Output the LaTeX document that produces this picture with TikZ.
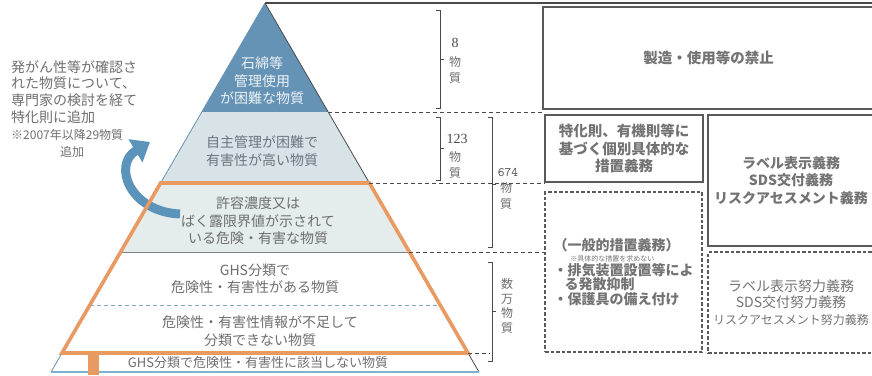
\documentclass[tikz,border=0pt]{standalone}
\usepackage{fontspec}
\setmainfont{Noto Sans CJK JP}
\newfontfamily\numfont{Liberation Serif}
\usetikzlibrary{arrows.meta}
\definecolor{topblue}{HTML}{6593B5}
\definecolor{midlayer}{HTML}{D7E3E7}
\definecolor{lowlayer}{HTML}{E4ECEC}
\definecolor{orangeline}{HTML}{E99A62}
\definecolor{arrowblue}{HTML}{5B93BB}
\definecolor{edgegray}{HTML}{4A4A4A}
\definecolor{txtgray}{HTML}{6E6E6E}
\definecolor{boxgray}{HTML}{5A5A5A}
\definecolor{bottomblue}{HTML}{7FB2D2}
\tikzset{
  jp/.style={font=\fontsize{14}{17.5}\selectfont, align=center, inner sep=0pt},
  layertext/.style={jp, text=txtgray},
  toptext/.style={jp, text=white!88!topblue},
  notetext/.style={font=\fontsize{14}{16.8}\selectfont, align=left, inner sep=0pt, text=txtgray},
  solidbox/.style={draw=boxgray, line width=1.8pt, inner sep=0pt, font=\bfseries\fontsize{14.5}{17.8}\selectfont, text=boxgray!85, align=center},
  dashbox/.style={draw=boxgray, line width=1.1pt, dash pattern=on 3.5pt off 2pt, inner sep=0pt, text=boxgray!85, align=center},
  dashline/.style={draw=edgegray, line width=0.9pt, dash pattern=on 4pt off 3pt},
  brk/.style={draw=edgegray, line width=0.9pt},
  cnt/.style={font=\numfont\fontsize{14}{14}\selectfont, inner sep=0pt, text=edgegray},
  cntjp/.style={font=\fontsize{12}{15.5}\selectfont, inner sep=0pt, text=txtgray, align=center}
}
\begin{document}
\begin{tikzpicture}[x=1pt,y=-1pt]
\useasboundingbox (0,0) rectangle (872,375);
\clip (0,0) rectangle (872,375);

% ---- pyramid layers ----
\fill[topblue] (265,3) -- (328.2,112) -- (201.8,112) -- cycle;
\fill[midlayer] (201.8,112) -- (328.2,112) -- (369.4,183) -- (160.6,183) -- cycle;
\fill[lowlayer] (160.6,183) -- (369.4,183) -- (409.4,252) -- (120.6,252) -- cycle;
\draw[edgegray!70, line width=0.8pt] (120.6,252) -- (409.4,252);
\draw[bottomblue!80!gray, line width=0.9pt, dash pattern=on 4pt off 3pt] (89.8,305) -- (440.2,305);
\draw[edgegray, line width=0.8pt] (265,3) -- (479,372);
\draw[topblue, line width=0.8pt] (265,3) -- (51,372);
\draw[bottomblue, line width=1.4pt] (51,372) -- (479,372);
\draw[edgegray!60, line width=0.6pt] (62,353) -- (468,353);

% ---- curved arrow ----
\draw[arrowblue, line width=9pt, -{Triangle[length=17pt,width=26pt]}]
  (180,214) .. controls (130,212) and (112,165) .. (150,142);

% ---- orange outline ----
\draw[orangeline, line width=3.6pt, line join=miter]
  (160.6,183) -- (369.4,183) -- (468,353) -- (62,353) -- cycle;
\fill[orangeline] (88,353) rectangle (99,375);

% ---- layer texts ----
\node[toptext] (l1) at (262,81) {石綿等\\管理使用\\が困難な物質};
\node[layertext, text=txtgray!80!topblue] (l2) at (262,151) {自主管理が困難で\\有害性が高い物質};
\node[layertext] (l3) at (258,221) {許容濃度又は\\ばく露限界値が示されて\\いる危険・有害な物質};
\node[layertext] (l4) at (255,279) {GHS分類で\\危険性・有害性がある物質};
\node[layertext] (l5) at (260,331) {危険性・有害性情報が不足して\\分類できない物質};
\node[layertext, font=\fontsize{13}{15}\selectfont] (l6) at (258,363) {GHS分類で危険性・有害性に該当しない物質};

% ---- left note ----
\node[notetext, anchor=north west] (note) at (11,60) {発がん性等が確認さ\\れた物質について、\\専門家の検討を経て\\特化則に追加\\{\fontsize{12}{16}\selectfont ※2007年以降29物質}\\\hspace*{3.5em}{\fontsize{12}{14}\selectfont 追加}};

% ---- top line and dashed level lines ----
\draw[edgegray, line width=1.2pt] (265,3) -- (872,3);
\draw[dashline] (328.2,112) -- (543,112);
\draw[dashline] (369.4,183) -- (545,183);
\draw[dashline] (409.4,252) -- (545,252);
\draw[dashline] (468,353) -- (490,353);

% ---- brackets ----
\draw[brk] (436,10) -- (440,10) -- (440,108) -- (436,108);
\draw[brk] (440,59) -- (444,59);
\draw[brk] (436,117) -- (440,117) -- (440,180) -- (436,180);
\draw[brk] (440,148) -- (444,148);
\draw[brk] (488,117) -- (492,117) -- (492,247) -- (488,247);
\draw[brk] (492,184) -- (496,184);
\draw[brk] (488,262) -- (492,262) -- (492,361) -- (488,361);
\draw[brk] (492,311) -- (496,311);

\node[cnt] (c1) at (455,43) {8};
\node[cntjp] (c1b) at (455,70) {物\\質};
\node[cnt] (c2) at (457,139) {123};
\node[cntjp] (c2b) at (455,165) {物\\質};
\node[cnt, font=\ttfamily\fontsize{13}{13}\selectfont] (c3) at (508,173) {674};
\node[cntjp] (c3b) at (506,196) {物\\質};
\node[cntjp, font=\fontsize{12}{14.5}\selectfont] (c4) at (507,306) {数\\万\\物\\質};

% ---- right boxes ----
\node[solidbox, minimum width=331pt, minimum height=102pt] (bA) at (708.5,58) {製造・使用等の禁止};
\node[solidbox, minimum width=158pt, minimum height=67pt] (bB) at (624,148.5) {特化則、有機則等に\\基づく個別具体的な\\措置義務};
\node[solidbox, minimum width=166pt, minimum height=131pt, font=\bfseries\fontsize{14}{17.8}\selectfont] (bC) at (791,180.5) {ラベル表示義務\\SDS交付義務\\リスクアセスメント義務};
\node[dashbox, minimum width=157pt, minimum height=160pt, align=left, font=\bfseries\fontsize{14}{14.5}\selectfont] (bD) at (623.5,272)
  {（一般的措置義務）\\[-3pt]\hspace*{1.2em}{\mdseries\fontsize{7}{8}\selectfont ※具体的な措置を求めない}\\[-1pt]・排気装置設置等によ\\\hspace*{0.8em}る発散抑制\\・保護具の備え付け};
\node[dashbox, minimum width=166pt, minimum height=101pt, font=\fontsize{14}{16.5}\selectfont] (bE) at (791,302.5)
  {ラベル表示努力義務\\SDS交付努力義務\\{\fontsize{12}{15}\selectfont リスクアセスメント努力義務}};
\end{tikzpicture}
\end{document}
